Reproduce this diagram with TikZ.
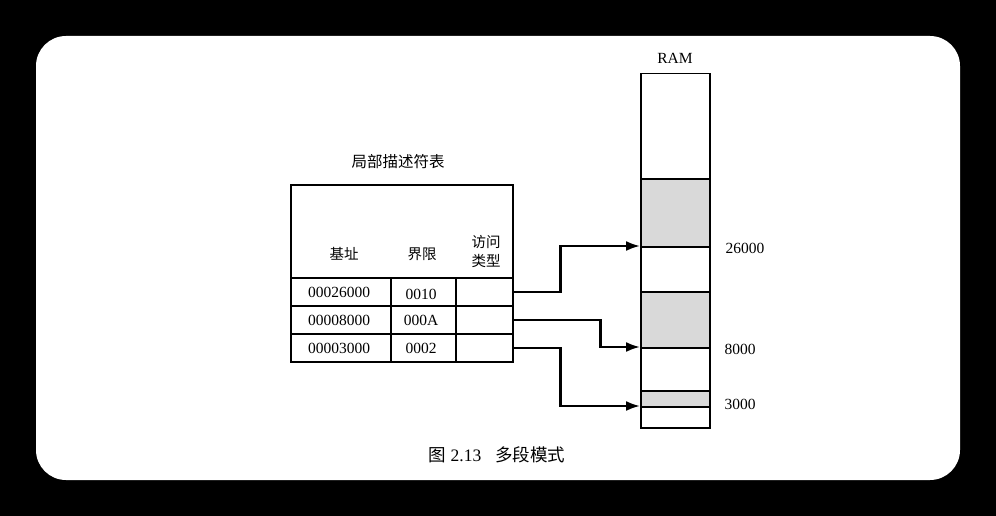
\documentclass[tikz,border=0pt]{standalone}
\usepackage{fontspec}
\setmainfont{Liberation Serif}
\newfontfamily\cjk{Noto Sans CJK SC}
\usetikzlibrary{arrows.meta}
\begin{document}
\begin{tikzpicture}[x=1pt,y=-1pt,
  cell/.style={draw, line width=1.5pt, inner sep=0pt, anchor=north west, minimum height=28pt},
  seg/.style={draw, line width=1.5pt, inner sep=0pt, anchor=north west, minimum width=69pt},
  shade/.style={fill=black!15},
  lbl/.style={font=\fontsize{15.5}{17}\selectfont, inner sep=0pt},
  zh/.style={font=\cjk\fontsize{14.5}{17}\selectfont, inner sep=0pt},
  arr/.style={line width=2.3pt, -{Latex[length=14pt,width=10pt]}}]
\useasboundingbox (0,0) rectangle (996,516);
\fill[black] (0,0) rectangle (996,516);
\fill[white, rounded corners=30pt] (36,36) rectangle (960,480);

% table
\node (title) [zh, font=\cjk\fontsize{15.5}{17}\selectfont] at (398,162) {局部描述符表};
\node (head) [draw, line width=1.5pt, inner sep=0pt, anchor=north west, minimum width=222pt, minimum height=93pt] at (290,184) {};
\node (h1) [zh] at (344,254) {基址};
\node (h2) [zh] at (422,254) {界限};
\node (h3) [zh, align=center, font=\cjk\fontsize{14.5}{19}\selectfont] at (486,252) {访问\\类型};

\node (b1) [cell, minimum width=100pt] at (290,277) {};
\node (l1) [cell, minimum width=65pt] at (390,277) {};
\node (a1) [cell, minimum width=57pt] at (455,277) {};
\node (b2) [cell, minimum width=100pt] at (290,305) {};
\node (l2) [cell, minimum width=65pt] at (390,305) {};
\node (a2) [cell, minimum width=57pt] at (455,305) {};
\node (b3) [cell, minimum width=100pt] at (290,333) {};
\node (l3) [cell, minimum width=65pt] at (390,333) {};
\node (a3) [cell, minimum width=57pt] at (455,333) {};

\node (t11) [lbl] at (339,292) {00026000};
\node (t12) [lbl] at (421,294) {0010};
\node (t21) [lbl] at (339,320) {00008000};
\node (t22) [lbl] at (421,320) {000A};
\node (t31) [lbl] at (339,348) {00003000};
\node (t32) [lbl] at (421,348) {0002};

% RAM
\node (ram) [lbl] at (675,58) {RAM};
\node (s1) [seg, minimum height=105pt] at (640,73) {};
\node (s2) [seg, shade, minimum height=68pt] at (640,178) {};
\node (s3) [seg, minimum height=45pt] at (640,246) {};
\node (s4) [seg, shade, minimum height=56pt] at (640,291) {};
\node (s5) [seg, minimum height=43pt] at (640,347) {};
\node (s6) [seg, shade, minimum height=16pt] at (640,390) {};
\node (s7) [seg, minimum height=21pt] at (640,406) {};

\node (v1) [lbl] at (745,248) {26000};
\node (v2) [lbl] at (740,349) {8000};
\node (v3) [lbl] at (740,404) {3000};

\draw[arr] (a1.east) -- ++(47,0) |- (s3.north west);
\draw[arr] (a2.east) -- ++(87,0) |- (s5.north west);
\draw[arr] (a3.east) -- ++(47,0) |- (s7.north west);

% caption
\node (cap) [font=\fontsize{17.5}{19}\selectfont, inner sep=0pt] at (497,455) {{\cjk 图} 2.13\hspace{14pt}{\cjk 多段模式}};
\end{tikzpicture}
\end{document}
